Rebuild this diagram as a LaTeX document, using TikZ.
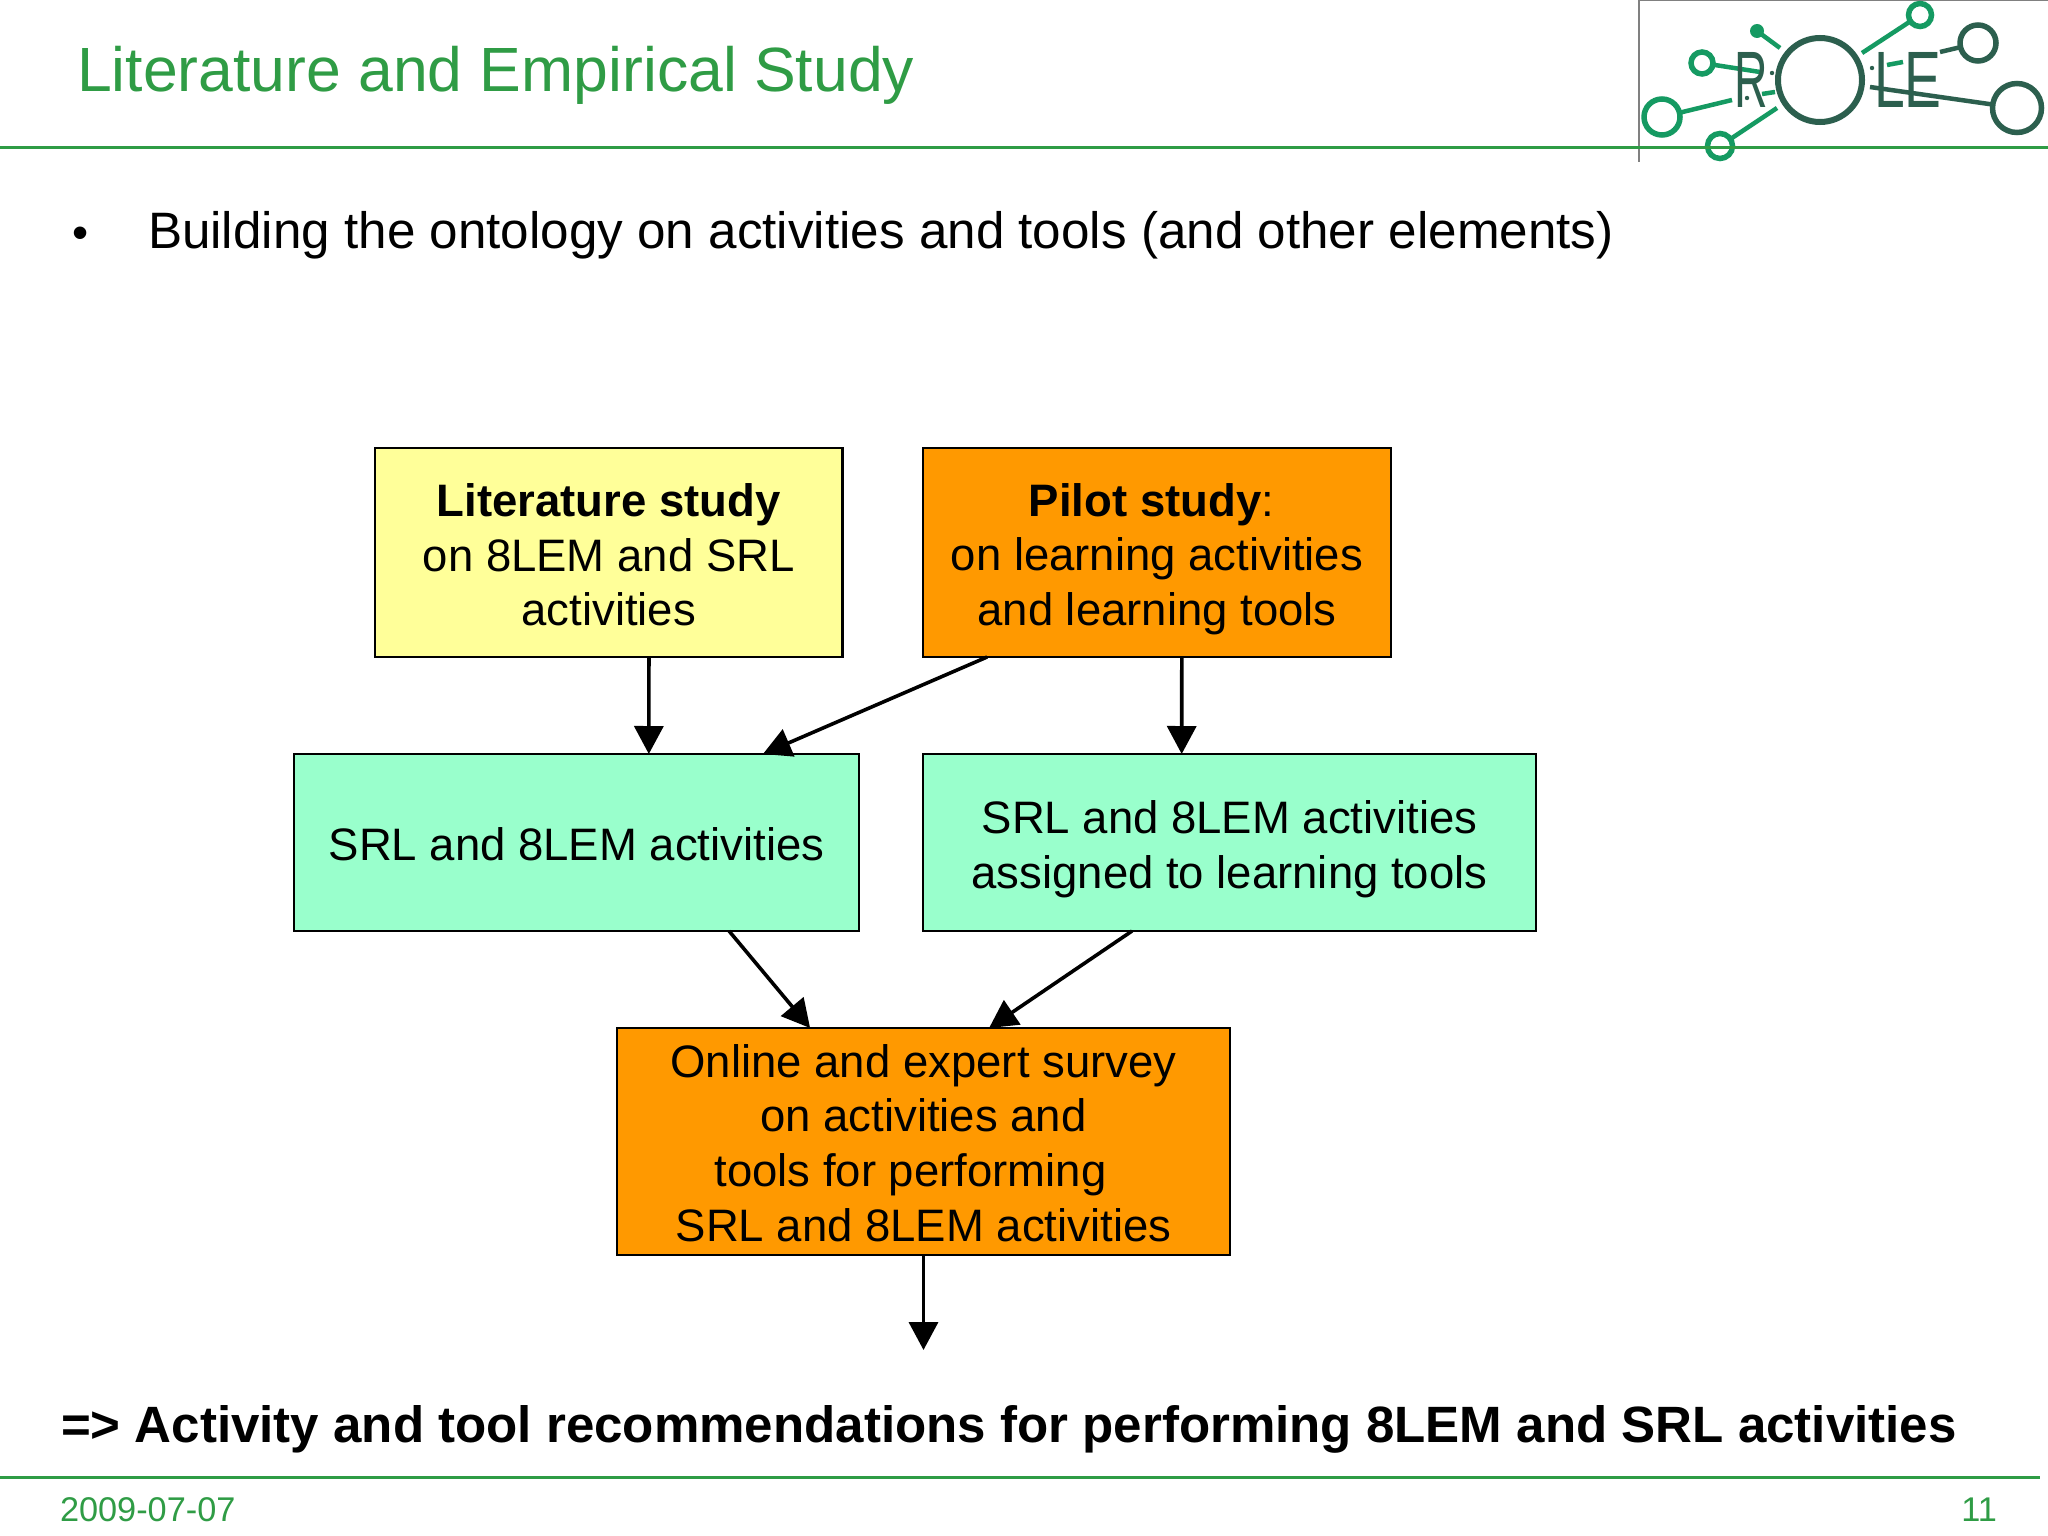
\documentclass[tikz,border=0pt]{standalone}
\usepackage{fontspec}
\setmainfont{Liberation Sans}
\usetikzlibrary{arrows.meta,calc}
\definecolor{slidegreen}{HTML}{2F9C45}
\definecolor{boxyellow}{HTML}{FFFF99}
\definecolor{boxorange}{HTML}{FF9900}
\definecolor{boxmint}{HTML}{99FFCC}
\definecolor{logogreen}{HTML}{159A62}
\definecolor{logodark}{HTML}{2C5F4E}
\newcommand{\lift}[1]{\rule{0pt}{#1pt}}
\tikzset{
  x=1pt,y=-1pt,
  flowbox/.style={draw=black,line width=2.7pt,outer sep=0pt,inner sep=0pt,align=center,anchor=north west,
    font=\fontsize{45.5}{54.7}\selectfont},
  flow/.style={draw=black,line width=3.6pt,-{Triangle[length=28pt,width=29pt]}},
  rulegreen/.style={draw=slidegreen,line width=3pt},
  lbranch/.style={draw=logogreen,line width=4.5pt},
  dbranch/.style={draw=logodark,line width=4.5pt},
  lring/.style={draw=logogreen,line width=5.5pt,fill=white},
  dring/.style={draw=logodark,line width=5.5pt,fill=white},
  logotext/.style={text=logodark,inner sep=0pt,anchor=base west,font=\fontsize{80}{80}\selectfont},
  plain/.style={inner sep=0pt,outer sep=0pt},
}
\begin{document}
\begin{tikzpicture}
\useasboundingbox (0,0) rectangle (2048,1536);
\fill[white] (0,0) rectangle (2048,1536);
% header
\node[plain,anchor=base west,text=slidegreen,font=\fontsize{62.5}{62.5}\selectfont] (title) at (77,92) {Literature and Empirical Study};
% logo
\coordinate (vt) at (1639,0); \coordinate (vb) at (1639,162); \coordinate (hr) at (2048,0);
\draw[draw=gray,line width=1.8pt] (vb) -- (vt) -- (hr);
\coordinate (rc1) at (1702,63); \coordinate (rc2) at (1662,117); \coordinate (rc3) at (1720,146);
\coordinate (rc4) at (1920,15); \coordinate (rc5) at (1978,43); \coordinate (rc6) at (2017,108);
\coordinate (dot) at (1757,31);
\draw[lbranch] (rc1) -- (1760,72);
\draw[lbranch] (rc2) -- (1732,100);
\draw[lbranch] (rc3) -- (1777,108);
\draw[lbranch] (dot) -- (1780,48);
\draw[lbranch] (rc4) -- (1862,53);
\draw[lbranch] (1887,65) -- (1903,62);
\draw[dbranch] (1940,52) -- (rc5);
\draw[dbranch] (1870,87) -- (rc6);
\draw[lbranch] (1762,94) -- (1775,92);
\fill[logogreen] (dot) circle (7);
\fill[logodark] (1772,73) circle (2.2) (1747,98) circle (2.2) (1872,68) circle (2.2);
\draw[lring] (rc1) circle (11);
\draw[lring] (rc2) circle (18);
\draw[lring] (rc3) circle (12.5);
\draw[lring] (rc4) circle (11.5);
\draw[dring] (rc5) circle (18);
\draw[dring] (rc6) circle (24.5);
\draw[draw=logodark,line width=6pt] (1820,80) circle (42);
\node[logotext,xscale=0.58] (logor) at (1734,108) {R};
\node[logotext,xscale=0.69] (logole) at (1874,108) {LE};
\draw[rulegreen] (0,148) -- (2048,148);
% bullet
\node[plain,anchor=base,font=\fontsize{46}{46}\selectfont] (bul) at (81,248) {•};
\node[plain,anchor=base west,font=\fontsize{51.2}{51.2}\selectfont] (bt) at (148,248) {Building the ontology on activities and tools (and other elements)};
% boxes
\node[flowbox,fill=boxyellow,minimum width=467.5pt,minimum height=209pt] (lit) at (375,448) {\lift{38}\textbf{Literature study}\\on 8LEM and SRL\\activities};
\node[flowbox,fill=boxorange,minimum width=468pt,minimum height=209pt] (pilot) at (923,448) {\lift{46}\textbf{Pilot study}:\rule{11pt}{0pt}\\on learning activities\\and learning tools};
\node[flowbox,fill=boxmint,minimum width=565pt,minimum height=177pt] (srl) at (294,754) {\lift{36}SRL and 8LEM activities};
\node[flowbox,fill=boxmint,minimum width=613pt,minimum height=177pt] (assign) at (923,754) {\lift{46}SRL and 8LEM activities\\assigned to learning tools};
\node[flowbox,fill=boxorange,minimum width=613pt,minimum height=227pt] (survey) at (617,1028) {\lift{36}Online and expert survey\\on activities and\\tools for performing\rule{26pt}{0pt}\\SRL and 8LEM activities};
\coordinate (free) at (923.5,1350);
% arrows
\draw[flow] ($(lit.south west)!0.586!(lit.south east)$) -- ($(srl.north west)!0.628!(srl.north east)$);
\draw[flow] ($(pilot.south west)!0.137!(pilot.south east)$) -- ($(srl.north west)!0.83!(srl.north east)$);
\draw[flow] ($(pilot.south west)!0.553!(pilot.south east)$) -- ($(assign.north west)!0.422!(assign.north east)$);
\draw[flow] ($(srl.south west)!0.77!(srl.south east)$) -- ($(survey.north west)!0.315!(survey.north east)$);
\draw[flow] ($(assign.south west)!0.341!(assign.south east)$) -- ($(survey.north west)!0.607!(survey.north east)$);
\draw[flow] (survey.south) -- (free);
% conclusion
\node[plain,anchor=base west,font=\bfseries\fontsize{51.07}{51.07}\selectfont] (concl) at (61,1442) {=> Activity and tool recommendations for performing 8LEM and SRL activities};
% footer
\coordinate (fl) at (0,1477); \coordinate (fr) at (2040,1477);
\draw[rulegreen] (fl) -- (fr);
\node[plain,anchor=base west,text=slidegreen,font=\fontsize{34.3}{34.3}\selectfont] (date) at (60,1521) {2009-07-07};
\node[plain,anchor=base east,text=slidegreen,font=\fontsize{34.3}{34.3}\selectfont] (page) at (1997,1521) {11};
\end{tikzpicture}
\end{document}
